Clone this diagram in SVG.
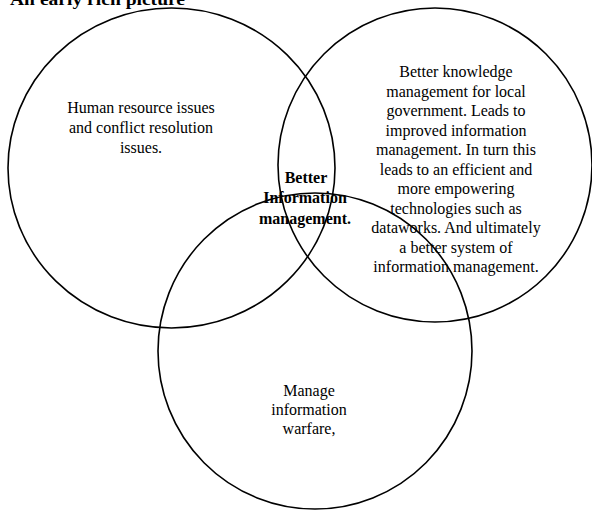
<svg xmlns="http://www.w3.org/2000/svg" width="592" height="510" viewBox="0 0 592 510">
<style>
.c{fill:none;stroke:#000;stroke-width:1.6}
.t{font-family:"Liberation Serif","Times New Roman",serif;font-size:16px;fill:#000;text-anchor:middle}
.b{font-weight:bold}
</style>
<rect width="592" height="510" fill="#fff"/>
<text x="10" y="5" font-family="Liberation Serif, serif" font-size="17" font-weight="bold" fill="#000" textLength="175" lengthAdjust="spacingAndGlyphs">An early rich picture</text>
<g id="circle-left">
<ellipse class="c" cx="171.5" cy="168" rx="163.5" ry="160"/>
<text class="t"><tspan x="141" y="113">Human resource issues</tspan><tspan x="141" y="133">and conflict resolution</tspan><tspan x="141" y="153">issues.</tspan></text>
</g>
<g id="circle-right">
<ellipse class="c" cx="435" cy="165" rx="157" ry="157"/>
<text class="t"><tspan x="456" y="77">Better knowledge</tspan><tspan x="456" y="96.5">management for local</tspan><tspan x="456" y="116">government. Leads to</tspan><tspan x="456" y="135.5">improved information</tspan><tspan x="456" y="155">management. In turn this</tspan><tspan x="456" y="174.5">leads to an efficient and</tspan><tspan x="456" y="194">more empowering</tspan><tspan x="456" y="213.5">technologies such as</tspan><tspan x="456" y="233">dataworks. And ultimately</tspan><tspan x="456" y="252.5">a better system of</tspan><tspan x="456" y="272">information management.</tspan></text>
</g>
<g id="circle-bottom">
<ellipse class="c" cx="315" cy="351" rx="157" ry="158"/>
<text class="t"><tspan x="309" y="396">Manage</tspan><tspan x="309" y="415">information</tspan><tspan x="309" y="434">warfare,</tspan></text>
</g>
<g id="center">
<text class="t b"><tspan x="306" y="183">Better</tspan><tspan x="305" y="203">Information</tspan><tspan x="305" y="224">management.</tspan></text>
</g>
<g id="connectors"></g>
</svg>
